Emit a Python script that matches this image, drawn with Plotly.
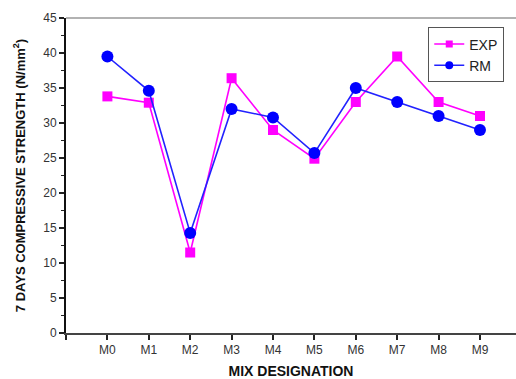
import plotly.graph_objects as go

mixes = ["M0", "M1", "M2", "M3", "M4", "M5", "M6", "M7", "M8", "M9"]
exp_vals = [33.8, 32.9, 11.5, 36.4, 29.0, 24.9, 33.0, 39.5, 33.0, 31.0]
rm_vals = [39.5, 34.6, 14.3, 32.0, 30.8, 25.7, 35.0, 33.0, 31.0, 29.0]

xpos = list(range(len(mixes)))

exp_line = dict(color="#FF00FF", width=1.6)
rm_line = dict(color="#2222FF", width=1.6)

fig = go.Figure()
fig.add_trace(go.Scatter(
    x=xpos, y=exp_vals, name="EXP", mode="lines+markers", showlegend=False,
    line=exp_line, marker=dict(symbol="square", size=10, color="#FF00FF"),
))
fig.add_trace(go.Scatter(
    x=xpos, y=rm_vals, name="RM", mode="lines+markers", showlegend=False,
    line=rm_line, marker=dict(symbol="circle", size=12, color="#0000FF"),
))
# legend entries with smaller symbols, as in the reference
fig.add_trace(go.Scatter(
    x=[None], y=[None], name="EXP", mode="lines+markers",
    line=exp_line, marker=dict(symbol="square", size=7, color="#FF00FF"),
))
fig.add_trace(go.Scatter(
    x=[None], y=[None], name="RM", mode="lines+markers",
    line=rm_line, marker=dict(symbol="circle", size=8, color="#0000FF"),
))

fig.update_layout(
    width=516, height=379,
    margin=dict(l=66, r=0, t=18, b=46, autoexpand=False),
    paper_bgcolor="white", plot_bgcolor="white",
    font=dict(family="Liberation Sans, Arial, sans-serif", color="#222"),
    showlegend=True,
    legend=dict(
        x=0.805, y=0.97, xanchor="left", yanchor="top",
        bordercolor="#555", borderwidth=1, bgcolor="white",
        font=dict(size=14, color="#222"),
        tracegroupgap=0, itemwidth=30,
    ),
    xaxis=dict(
        range=[-1, 9.87], automargin=False,
        tickvals=[-1] + xpos, ticktext=[""] + mixes,
        showgrid=False, zeroline=False,
        showline=True, linecolor="#444", linewidth=2,
        ticks="outside", ticklen=5, tickwidth=1.5, tickcolor="#222",
        tickfont=dict(size=12, color="#333"),
        title=dict(text="<b>MIX DESIGNATION</b>", font=dict(size=14, color="#111"), standoff=13),
    ),
    yaxis=dict(
        range=[0, 45], automargin=False,
        tickvals=[0, 5, 10, 15, 20, 25, 30, 35, 40, 45],
        showgrid=False, zeroline=False,
        showline=True, linecolor="#111", linewidth=2,
        ticks="outside", ticklen=5, tickwidth=1.5, tickcolor="#222",
        tickfont=dict(size=12, color="#333"),
        minor=dict(dtick=2.5, ticks="outside", ticklen=3, tickwidth=1, tickcolor="#222", showgrid=False),
        title=dict(text="<b>7 DAYS COMPRESSIVE STRENGTH (N/mm<sup>2</sup>)</b>",
                   font=dict(size=13, color="#111"), standoff=15),
    ),
)

fig.add_shape(type="line", xref="paper", yref="paper", x0=0, x1=1, y0=1, y1=1,
              line=dict(color="#999", width=1.5))

fig.write_html("out.html", config={"displayModeBar": False},
               post_script="document.body.style.margin='0';")
